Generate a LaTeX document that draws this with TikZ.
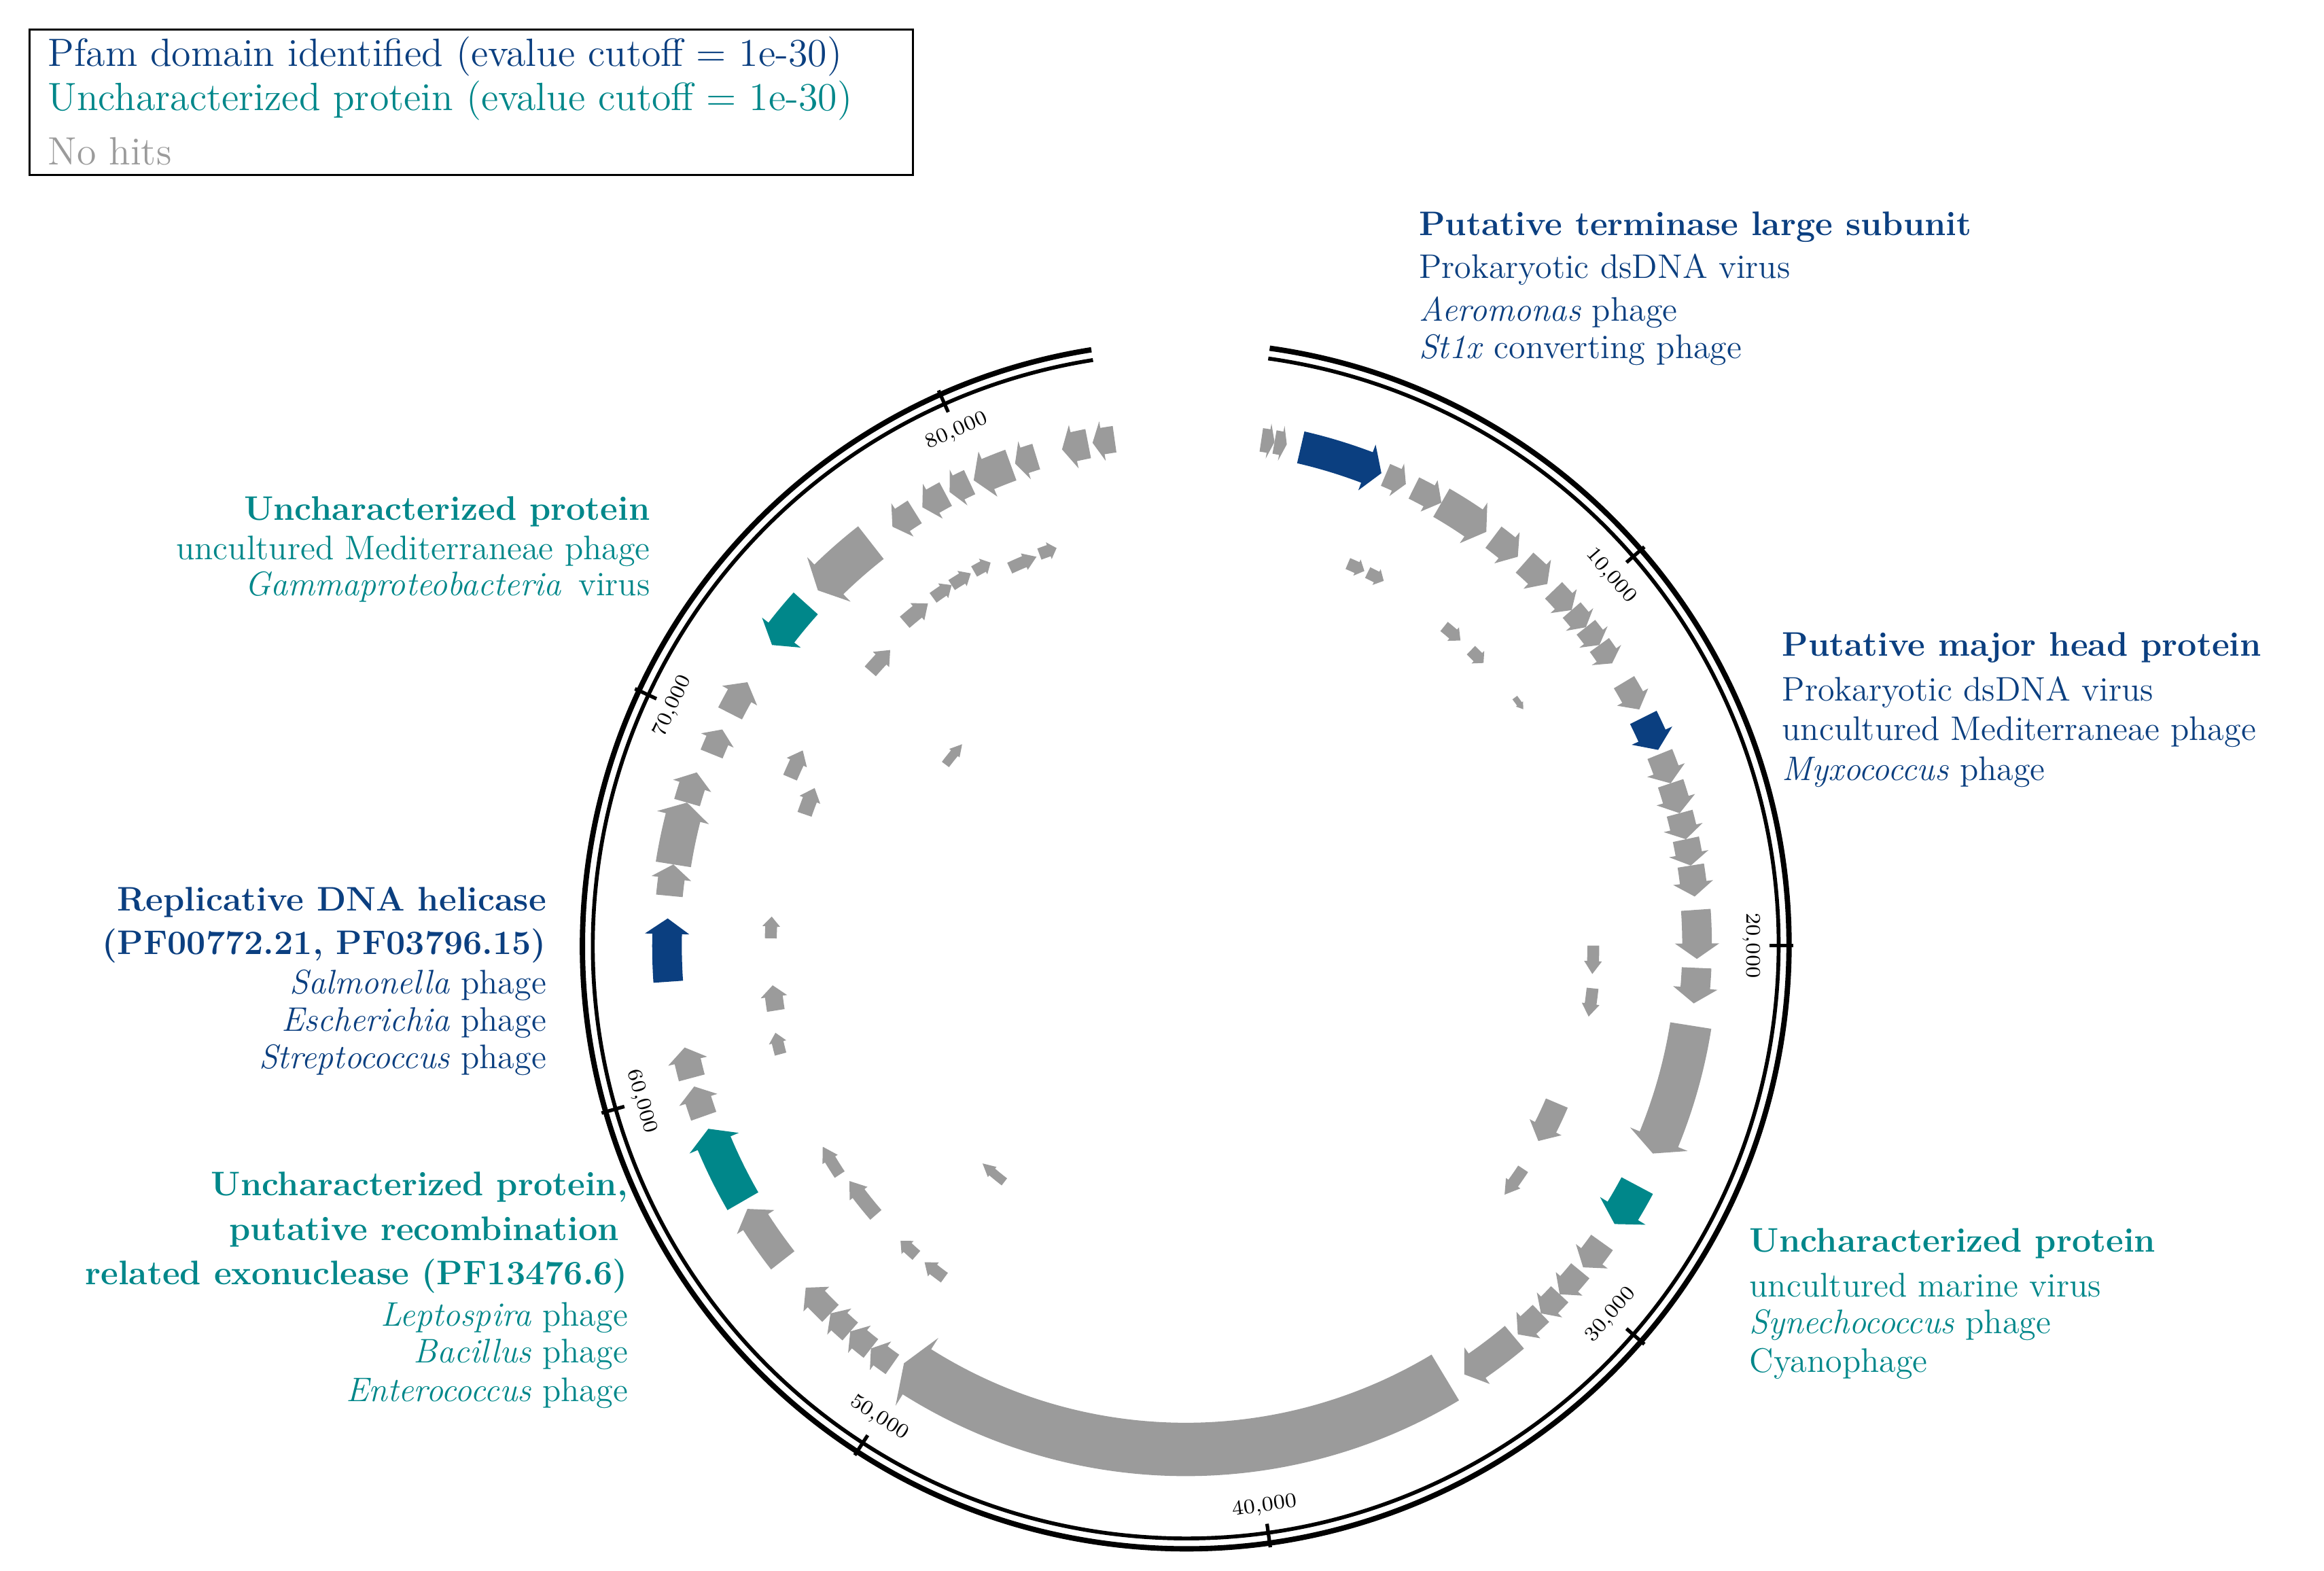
\documentclass[tikz,border=0pt]{standalone}
\definecolor{pblue}{HTML}{0B3F80}
\definecolor{pteal}{HTML}{00878A}
\definecolor{pgrey}{HTML}{9B9B9B}
\newcommand\gene[5][pgrey]{%
\pgfmathsetmacro\gTl{min(abs(#3-#2)*0.45,600/#4)}%
\pgfmathsetmacro\gB{#3-((#3>#2)?1:-1)*\gTl}%
\pgfmathsetmacro\gRi{#4-#5}\pgfmathsetmacro\gRo{#4+#5}%
\pgfmathsetmacro\gFi{#4-1.5*#5}\pgfmathsetmacro\gFo{#4+1.5*#5}%
\fill[#1] (#2:\gRi) arc[start angle=#2,end angle=\gB,radius=\gRi*0.5pt] -- (\gB:\gFi) -- (#3:#4) -- (\gB:\gFo) -- (\gB:\gRo) arc[start angle=\gB,end angle=#2,radius=\gRo*0.5pt] -- cycle;}
\tikzset{ticklbl/.style={font=\fontsize{7}{8}\selectfont,inner sep=0pt},
 lab/.style={font=\fontsize{11.5}{13}\selectfont,inner sep=0pt},
 blab/.style={lab,font=\fontsize{11.5}{13}\selectfont\bfseries},
 leg/.style={lab,anchor=west,font=\fontsize{13.3}{15}\selectfont}}
\begin{document}
\begin{tikzpicture}[x=0.5pt,y=0.5pt]
\useasboundingbox (0,0) rectangle (1568,1060);
% legend
\draw[line width=0.6pt] (20,1040) rectangle (616,942);
\node[leg,text=pblue] (l1) at (32,1022) {Pfam domain identified (evalue cutoff = 1e-30)};
\node[leg,text=pteal] (l2) at (32,992) {Uncharacterized protein (evalue cutoff = 1e-30)};
\node[leg,text=pgrey] (l3) at (32,958) {No hits};
\begin{scope}[shift={(800,422)}]
\draw[line width=1.3pt] (82:400) arc[start angle=82,end angle=-261,radius=200pt];
\draw[line width=1.8pt] (82:407) arc[start angle=82,end angle=-261,radius=203.5pt];
\draw[line width=1.2pt] (41:394) -- (41:410); \node[ticklbl,rotate=-49] at (41:380) {10,000};
\draw[line width=1.2pt] (0:394) -- (0:410); \node[ticklbl,rotate=-90] at (0:382) {20,000};
\draw[line width=1.2pt] (-41:394) -- (-41:410); \node[ticklbl,rotate=49] at (-41:380) {30,000};
\draw[line width=1.2pt] (-82:394) -- (-82:410); \node[ticklbl,rotate=8] at (-82:382) {40,000};
\draw[line width=1.2pt] (-123:394) -- (-123:410); \node[ticklbl,rotate=-33] at (-123:380) {50,000};
\draw[line width=1.2pt] (-164:394) -- (-164:410); \node[ticklbl,rotate=-74] at (-164:382) {60,000};
\draw[line width=1.2pt] (155:394) -- (155:410); \node[ticklbl,rotate=65] at (155:382) {70,000};
\draw[line width=1.2pt] (114:394) -- (114:410); \node[ticklbl,rotate=24] at (114:380) {80,000};
% outer genes
\gene{81.5}{80}{345}{8}\gene{80}{78.6}{345}{8}
\gene[pblue]{77}{67.5}{345}{11}
\gene{67}{64.5}{345}{8}\gene{63.5}{60}{345}{8}\gene{60}{54}{345}{11}
\gene{53}{49.5}{345}{9}\gene{48.5}{45}{345}{9}
\gene{44}{41}{345}{8}\gene{41}{38.5}{345}{8}\gene{38.5}{36}{345}{8}\gene{36}{33.5}{345}{8}
\gene{31}{27.5}{345}{8}
\gene[pblue]{26.5}{22.5}{345}{10}
\gene{22}{18.5}{345}{9}\gene{18.5}{15}{345}{9}\gene{15}{12}{345}{9}\gene{12}{9}{345}{9}\gene{9}{5.5}{345}{9}
\gene{4}{-1.5}{345}{10}\gene{-2.5}{-6.5}{345}{10}
\gene{-9}{-24}{345}{14}
\gene[pteal]{-28}{-33}{345}{12}
\gene{-35.5}{-39}{345}{9}\gene{-39.5}{-43}{345}{8}\gene{-43}{-46}{345}{8}\gene{-46}{-49.5}{345}{8}
\gene{-50}{-57}{345}{10}
\gene{-59}{-124}{340}{18}
\gene{-125}{-128}{345}{8}\gene{-128}{-131}{345}{8}\gene{-131}{-134}{345}{8}\gene{-134}{-138}{345}{8}
\gene{-142}{-149}{345}{10}
\gene[pteal]{-150}{-159}{345}{12}
\gene{-160.5}{-164}{345}{9}\gene{-165}{-168.5}{345}{9}
\gene[pblue]{-176}{-183}{350}{10}
\gene{-185.5}{-189}{350}{9}\gene{-189}{-196}{350}{12}\gene{-196}{-199.5}{350}{9}
\gene{-202}{-205}{345}{8}\gene{-207}{-211}{345}{9}
\gene[pteal]{-222}{-216}{345}{11}
\gene{-232}{-224}{345}{14}
\gene{-238}{-235}{345}{9}\gene{-242}{-239}{345}{9}\gene{-245}{-242.5}{345}{9}
\gene{-250}{-245.5}{345}{11}\gene{-253}{-250.5}{345}{9}
\gene{-259}{-256}{345}{10}\gene{-262}{-259.5}{345}{9}
% inner genes
\gene{67}{64.5}{280}{4}\gene{64}{61.5}{280}{4}
\gene{51}{48}{277}{4}\gene{46}{43.5}{277}{4}\gene{37}{35}{278}{2}
\gene{0}{-4}{275}{4}\gene{-6}{-10}{276}{4}
\gene{-23}{-29}{272}{8}\gene{-33.5}{-38}{273}{4}
\gene{-127.5}{-133}{201}{3}
\gene{-139}{-145}{277}{5}\gene{-146.5}{-151}{280}{4}
\gene{-131}{-134}{277}{4}\gene{-126}{-129.5}{277}{4}
\gene{-165}{-168}{283}{4}\gene{-171}{-174.5}{280}{6}
\gene{-181}{-184}{280}{4}
\gene{-199}{-203}{272}{5}\gene{-203}{-207}{290}{5}
\gene{-217}{-222}{203}{3}\gene{-221}{-225}{282}{5}
\gene{-229}{-233}{289}{5}
\gene{-234}{-237}{290}{4}\gene{-237}{-240}{290}{4}\gene{-240.5}{-243}{290}{4}
\gene{-245}{-249}{281}{4}\gene{-249.5}{-252}{282}{4}
\end{scope}
% labels
\node[blab,anchor=west,text=pblue] (t1) at (957,907) {Putative terminase large subunit};
\node[lab,anchor=west,text=pblue] (t2) at (957,878) {Prokaryotic dsDNA virus};
\node[lab,anchor=west,text=pblue] (t3) at (957,849) {\textit{Aeromonas} phage};
\node[lab,anchor=west,text=pblue] (t4) at (957,824) {\textit{St1x} converting phage};
\node[blab,anchor=west,text=pblue] (h1) at (1202,623) {Putative major head protein};
\node[lab,anchor=west,text=pblue] (h2) at (1202,593) {Prokaryotic dsDNA virus};
\node[lab,anchor=west,text=pblue] (h3) at (1202,566) {uncultured Mediterraneae phage};
\node[lab,anchor=west,text=pblue] (h4) at (1202,539) {\textit{Myxococcus} phage};
\node[blab,anchor=west,text=pteal] (u1) at (1180,221) {Uncharacterized protein};
\node[lab,anchor=west,text=pteal] (u2) at (1180,193) {uncultured marine virus};
\node[lab,anchor=west,text=pteal] (u3) at (1180,166) {\textit{Synechococcus} phage};
\node[lab,anchor=west,text=pteal] (u4) at (1180,140) {Cyanophage};
\node[blab,anchor=east,text=pteal] (v1) at (439,715) {Uncharacterized protein};
\node[lab,anchor=east,text=pteal] (v2) at (439,688) {uncultured Mediterraneae phage};
\node[lab,anchor=east,text=pteal] (v3) at (439,664) {\textit{Gammaproteobacteria}\, virus};
\node[blab,anchor=east,text=pblue] (r1) at (369,451) {Replicative DNA helicase};
\node[blab,anchor=east,text=pblue] (r2) at (369,422) {(PF00772.21, PF03796.15)};
\node[lab,anchor=east,text=pblue] (r3) at (369,395) {\textit{Salmonella} phage};
\node[lab,anchor=east,text=pblue] (r4) at (369,370) {\textit{Escherichia} phage};
\node[lab,anchor=east,text=pblue] (r5) at (369,345) {\textit{Streptococcus} phage};
\node[blab,anchor=east,text=pteal] (e1) at (424,259) {Uncharacterized protein,};
\node[blab,anchor=east,text=pteal] (e2) at (418,229) {putative recombination};
\node[blab,anchor=east,text=pteal] (e3) at (424,199) {related exonuclease (PF13476.6)};
\node[lab,anchor=east,text=pteal] (e4) at (424,171) {\textit{Leptospira} phage};
\node[lab,anchor=east,text=pteal] (e5) at (424,146) {\textit{Bacillus} phage};
\node[lab,anchor=east,text=pteal] (e6) at (424,120) {\textit{Enterococcus} phage};
\end{tikzpicture}
\end{document}
